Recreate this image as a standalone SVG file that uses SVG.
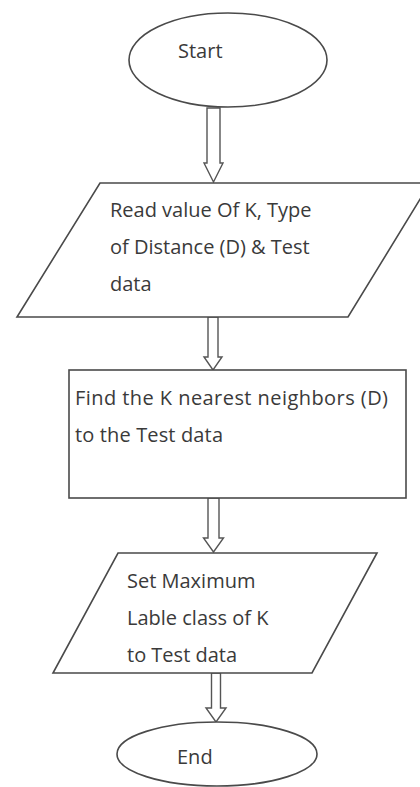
<svg xmlns="http://www.w3.org/2000/svg" width="420" height="787" viewBox="0 0 420 787">
  <style>
    .shape { fill: #ffffff; stroke: #4a4a4a; stroke-width: 1.6; }
    .flow { fill: #ffffff; stroke: #555555; stroke-width: 1.4; stroke-linejoin: miter; }
    .label { font-family: "Open Sans", "Noto Sans", sans-serif; font-size: 20px; fill: #3a3a3a; }
  </style>
  <rect x="0" y="0" width="420" height="787" fill="#ffffff"/>

  <!-- hollow block arrows between steps -->
  <g id="connectors">
    <polygon class="flow" points="207,108 220,108 220,163 223,163 213.5,182 204,163 207,163"/>
    <polygon class="flow" points="208,317 218,317 218,357 222,357 213,370 204,357 208,357"/>
    <polygon class="flow" points="208,498 219,498 219,538 223.5,538 213.5,552 203.5,538 208,538"/>
    <polygon class="flow" points="211.5,673 220.5,673 220.5,708 226,708 216,722 206,708 211.5,708"/>
  </g>

  <g id="start">
    <ellipse class="shape" cx="228" cy="60" rx="99" ry="47"/>
    <text class="label" x="178" y="58">Start</text>
  </g>

  <g id="read-input">
    <polygon class="shape" points="100,183 430,183 348,317 17,317"/>
    <text class="label" x="110" y="217">Read value Of K, Type</text>
    <text class="label" x="110" y="254">of Distance (D) &amp; Test</text>
    <text class="label" x="110" y="291">data</text>
  </g>

  <g id="find-neighbors">
    <rect class="shape" x="69" y="370" width="337" height="128"/>
    <text class="label" x="75" y="405" textLength="313" lengthAdjust="spacing">Find the K nearest neighbors (D)</text>
    <text class="label" x="75" y="442" textLength="148" lengthAdjust="spacing">to the Test data</text>
  </g>

  <g id="set-label">
    <polygon class="shape" points="118,553 377,553 312,673 53,673"/>
    <text class="label" x="127" y="588">Set Maximum</text>
    <text class="label" x="127" y="625">Lable class of K</text>
    <text class="label" x="127" y="662">to Test data</text>
  </g>

  <g id="end">
    <ellipse class="shape" cx="217" cy="754" rx="100" ry="32"/>
    <text class="label" x="177" y="764">End</text>
  </g>
</svg>
